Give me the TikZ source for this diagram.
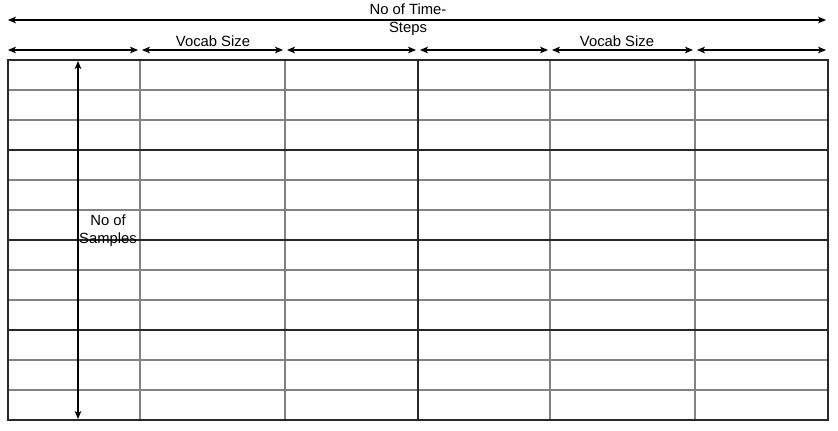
\documentclass[tikz,border=0pt]{standalone}
\usepackage{fontspec}
\setmainfont{Liberation Sans}
\usepackage{xcolor}
\usetikzlibrary{arrows.meta}
\definecolor{cellgray}{RGB}{130,130,130}
\definecolor{blockdark}{RGB}{40,40,40}

\begin{document}
\begin{tikzpicture}[x=.75pt,y=-.75pt,
  gridline/.style={cellgray, line width=.8pt},
  blockline/.style={blockdark, line width=.8pt},
  dimarrow/.style={black, line width=.8pt, <->, >={Stealth[length=6pt,width=5pt,inset=1.6pt]}},
  lbl/.style={inner sep=0, align=center, font=\fontsize{11.1}{13.5}\selectfont}]
\useasboundingbox (0,0) rectangle (838,430);
% cells
\foreach \y in {90,120,180,210,270,300,360,390}
 \draw[gridline] (8,\y)--(828,\y);
\foreach \x in {140,285,550,695}
 \draw[gridline] (\x,60)--(\x,420);
\foreach \y in {150,240,330}
 \draw[blockline] (8,\y)--(828,\y);
\draw[blockline] (418,60)--(418,420);
\draw[blockline] (8,60) rectangle (828,420);
% time steps
\coordinate (ts-l) at (8,20);
\coordinate (ts-r) at (826,20);
\draw[dimarrow] (ts-l)--(ts-r);
\node[lbl] (ts) at (408,20) {No of Time-\\Steps};
% columns
\foreach \a/\b [count=\i] in {8/138,142/283,287/416,420/548,552/693,697/826} {
 \coordinate (col\i-l) at (\a,50);
 \coordinate (col\i-r) at (\b,50);
 \draw[dimarrow] (col\i-l)--(col\i-r);
}
\node[lbl] (vocab-a) at (213,41) {Vocab Size};
\node[lbl] (vocab-b) at (617,41) {Vocab Size};
% samples
\coordinate (smp-t) at (78,61);
\coordinate (smp-b) at (78,419);
\draw[dimarrow] (smp-t)--(smp-b);
\node[lbl] (smp) at (108,231) {No of\\Samples};
\end{tikzpicture}
\end{document}
